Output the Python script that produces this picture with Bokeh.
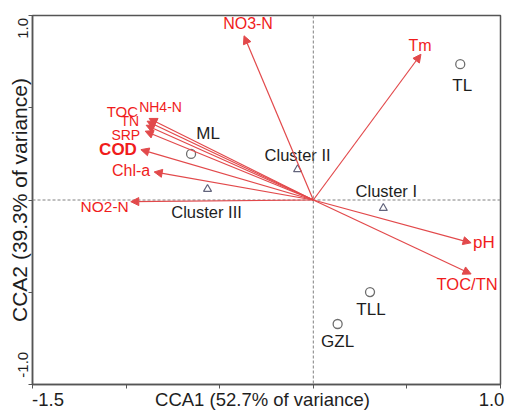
from bokeh.plotting import figure
from bokeh.models import ColumnDataSource, Arrow, NormalHead, Span, FixedTicker
from bokeh.core.properties import value
from bokeh.embed import file_html
from bokeh.resources import INLINE

# ---------------- data ----------------
env_names = ["NO3-N", "Tm", "NH4-N", "TOC", "TN", "SRP", "COD", "Chl-a", "NO2-N", "pH", "TOC/TN"]
env_cca1 = [-0.370, 0.575, -0.877, -0.888, -0.893, -0.898, -0.921, -0.850, -0.975, 0.843, 0.843]
env_cca2 = [0.890, 0.790, 0.442, 0.427, 0.405, 0.373, 0.273, 0.152, -0.009, -0.232, -0.401]

site_names = ["ML", "TL", "TLL", "GZL"]
site_cca1 = [-0.653, 0.785, 0.303, 0.130]
site_cca2 = [0.250, 0.736, -0.499, -0.672]

cluster_names = ["Cluster I", "Cluster II", "Cluster III"]
cluster_cca1 = [0.374, -0.084, -0.565]
cluster_cca2 = [-0.044, 0.166, 0.059]

x_ticks = [-1.5, -1.0, -0.5, 0.0, 0.5, 1.0]
y_ticks = [-1.0, -0.5, 0.0, 0.5, 1.0]
x_tick_labels = {-1.5: "-1.5", 1.0: "1.0"}
y_tick_labels = {1.0: "1.0", -1.0: "-1.0"}
x_title = "CCA1 (52.7% of variance)"
y_title = "CCA2 (39.3% of variance)"

# ---------------- layout & styles ----------------
W, H = 506, 412
B_LEFT, B_RIGHT, B_TOP, B_BOTTOM = 32, 6, 15, 23
X_RANGE, Y_RANGE = (-1.5, 1.0), (-1.0, 1.0)
SX = (W - B_LEFT - B_RIGHT) / (X_RANGE[1] - X_RANGE[0])   # px per unit
SY = (H - B_TOP - B_BOTTOM) / (Y_RANGE[1] - Y_RANGE[0])

# tick-label centre shifts in px (labels sit inward of their tick; +x right, +y up)
x_label_shift = {-1.5: 15.5, 1.0: -9.0}
y_label_shift = {1.0: -13.0, -1.0: 20.0}
x_title_shift = -4.0

env_style = {
    "NO3-N": (4, -12, "center", "16px", "normal"),
    "Tm": (-1, -9, "center", "16px", "normal"),
    "NH4-N": (-10, -11, "left", "14px", "normal"),
    "TOC": (-9, -10, "right", "15px", "normal"),
    "TN": (-7, -4, "right", "14px", "normal"),
    "SRP": (-5, 4, "right", "14px", "normal"),
    "COD": (-4, 0, "right", "17px", "bold"),
    "Chl-a": (-4, -1, "right", "16px", "normal"),
    "NO2-N": (-2, 5, "right", "15.5px", "normal"),
    "pH": (2, 0, "left", "17px", "normal"),
    "TOC/TN": (-4, 10, "center", "16.5px", "normal"),
}
site_style = {"ML": (17, -20), "TL": (2, 21), "TLL": (1, 17), "GZL": (0, 18)}
cluster_style = {"Cluster I": (3, -17), "Cluster II": (0, -14), "Cluster III": (-1, 23)}

FONT = "Liberation Sans"
RED_TXT = "#f01c1c"
RED_LINE = "#e2494b"
DARK = "#1e1e1e"
FRAME = "#555555"

p = figure(width=W, height=H, x_range=X_RANGE, y_range=Y_RANGE,
           output_backend="svg", toolbar_location=None,
           min_border_left=B_LEFT, min_border_right=B_RIGHT,
           min_border_top=B_TOP, min_border_bottom=B_BOTTOM)
p.grid.visible = False
p.background_fill_color = "white"
p.border_fill_color = "white"
p.outline_line_color = FRAME
p.outline_line_width = 1.5

# axes: visible tick marks are the "minor" ticks, labels sit on invisible "major" ticks
x_major = [t + x_label_shift[t] / SX for t in x_tick_labels] + [(X_RANGE[0] + X_RANGE[1]) / 2 + x_title_shift / SX]
x_text = list(x_tick_labels.values()) + [x_title]
y_major = [t + y_label_shift[t] / SY for t in y_tick_labels]
y_text = list(y_tick_labels.values())

for ax, major, texts, ticks in ((p.xaxis[0], x_major, x_text, x_ticks),
                                (p.yaxis[0], y_major, y_text, y_ticks)):
    ax.ticker = FixedTicker(ticks=major, minor_ticks=ticks)
    ax.major_label_overrides = {m: t for m, t in zip(major, texts)}
    ax.axis_line_color = FRAME
    ax.axis_line_width = 1.5
    ax.major_tick_line_color = None
    ax.major_tick_in = 0
    ax.major_tick_out = 0
    ax.minor_tick_line_color = FRAME
    ax.minor_tick_line_width = 1
    ax.minor_tick_in = 0
    ax.minor_tick_out = 4
    ax.major_label_standoff = 0
    ax.major_label_text_font = FONT
    ax.major_label_text_color = DARK
p.xaxis[0].major_label_text_font_size = "18.5px"
p.yaxis[0].major_label_text_font_size = "15px"
p.yaxis[0].major_label_orientation = "vertical"
p.yaxis[0].axis_label = y_title
p.yaxis[0].axis_label_text_font = FONT
p.yaxis[0].axis_label_text_font_size = "21px"
p.yaxis[0].axis_label_text_font_style = "normal"
p.yaxis[0].axis_label_text_color = DARK
p.yaxis[0].axis_label_standoff = -15

# zero lines
p.add_layout(Span(location=0, dimension="width", line_color="#808080", line_width=1, line_dash="3 2"))
p.add_layout(Span(location=0, dimension="height", line_color="#808080", line_width=1, line_dash="3 2"))

# environmental arrows
n_env = len(env_names)
env_src = ColumnDataSource(dict(
    x0=[0.0] * n_env, y0=[0.0] * n_env,
    x=env_cca1, y=env_cca2, name=env_names,
    dx=[env_style[n][0] for n in env_names],
    dy=[env_style[n][1] for n in env_names],
    align=[env_style[n][2] for n in env_names],
    size=[env_style[n][3] for n in env_names],
    weight=[env_style[n][4] for n in env_names],
))
p.add_layout(Arrow(end=NormalHead(size=8, fill_color=RED_LINE, line_color=RED_LINE, line_width=1),
                   x_start="x0", y_start="y0", x_end="x", y_end="y", source=env_src,
                   line_color=RED_LINE, line_width=1.2))
p.text(x="x", y="y", text="name", x_offset="dx", y_offset="dy", text_align="align",
       text_baseline="middle", text_font_size="size", text_font_style="weight",
       text_font=value(FONT), text_color=RED_TXT, source=env_src)

# sites
site_src = ColumnDataSource(dict(x=site_cca1, y=site_cca2, name=site_names,
                                 dx=[site_style[n][0] for n in site_names],
                                 dy=[site_style[n][1] for n in site_names]))
p.scatter(x="x", y="y", marker="circle", size=9, fill_color=None, line_color="#6e6e6e",
          line_width=1.3, source=site_src)
p.text(x="x", y="y", text="name", x_offset="dx", y_offset="dy", text_align="center",
       text_baseline="middle", text_font_size="17px", text_font=value(FONT),
       text_color=DARK, source=site_src)

# clusters
cl_src = ColumnDataSource(dict(x=cluster_cca1, y=cluster_cca2, name=cluster_names,
                               dx=[cluster_style[n][0] for n in cluster_names],
                               dy=[cluster_style[n][1] for n in cluster_names]))
p.scatter(x="x", y="y", marker="triangle", size=8, fill_color=None, line_color="#62647c",
          line_width=1.2, source=cl_src)
p.text(x="x", y="y", text="name", x_offset="dx", y_offset="dy", text_align="center",
       text_baseline="middle", text_font_size="16.5px", text_font=value(FONT),
       text_color=DARK, source=cl_src)

open("out.html", "w").write(file_html(p, INLINE))
